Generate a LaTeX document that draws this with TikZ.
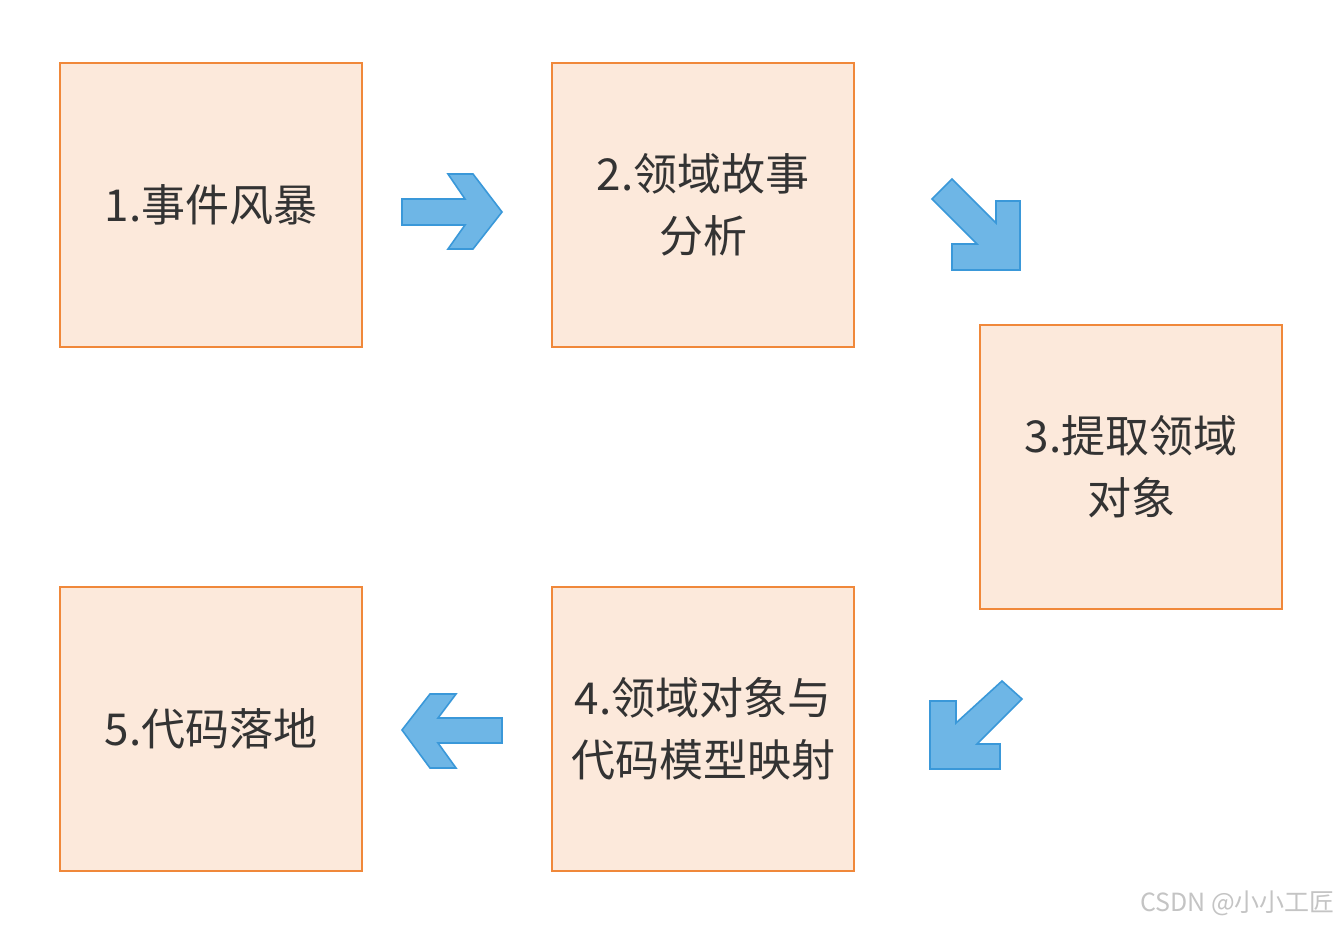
\documentclass[tikz,border=0pt]{standalone}
\usepackage{fontspec}
\setmainfont{Noto Sans CJK SC}
\newfontfamily\cjk{Noto Sans CJK SC}
\definecolor{boxfill}{HTML}{FCE9DB}
\definecolor{boxline}{HTML}{F0883A}
\definecolor{arrfill}{HTML}{6EB6E6}
\definecolor{arrline}{HTML}{3A98D9}
\definecolor{txt}{HTML}{333333}
\definecolor{wm}{HTML}{C4C4C4}
\tikzset{
  stepbox/.style={draw=boxline, fill=boxfill, line width=1.6pt, minimum width=302pt, minimum height=284pt, inner sep=0pt, align=center, text=txt, font=\cjk\fontsize{44}{62}\selectfont},
  bluearrow/.style={draw=arrline, fill=arrfill, line width=1.6pt, line join=miter}
}
\begin{document}
\begin{tikzpicture}[x=1pt,y=-1pt]
\useasboundingbox (0,0) rectangle (1339,925);
\fill[white] (0,0) rectangle (1339,925);
\node[stepbox] (b1) at (211,205) {1.事件风暴};
\node[stepbox] (b2) at (703,205) {2.领域故事\\分析};
\node[stepbox] (b3) at (1131,467) {3.提取领域\\对象};
\node[stepbox] (b4) at (703,729) {4.领域对象与\\代码模型映射};
\node[stepbox] (b5) at (211,729) {5.代码落地};
% right arrow
\draw[bluearrow] (402,199) -- (465,199) -- (448,174) -- (473,174) -- (502,212) -- (473,249) -- (448,249) -- (465,225) -- (402,225) -- cycle;
% down-right arrow
\draw[bluearrow] (932,199) -- (952,179) -- (996,223) -- (996,201) -- (1020,201) -- (1020,270) -- (952,270) -- (952,244) -- (977,244) -- cycle;
% down-left arrow
\draw[bluearrow] (1022,699) -- (1002,681) -- (956,723) -- (956,701) -- (930,701) -- (930,769) -- (1000,769) -- (1000,744) -- (977,744) -- cycle;
% left arrow
\draw[bluearrow] (502,718) -- (438,718) -- (456,694) -- (430,694) -- (402,730) -- (430,768) -- (456,768) -- (438,743) -- (502,743) -- cycle;
% watermark
\node[text=wm, font=\cjk\fontsize{25}{27}\selectfont, anchor=east, inner sep=0pt] (wmk) at (1335,903) {CSDN @小小工匠};
\end{tikzpicture}
\end{document}
